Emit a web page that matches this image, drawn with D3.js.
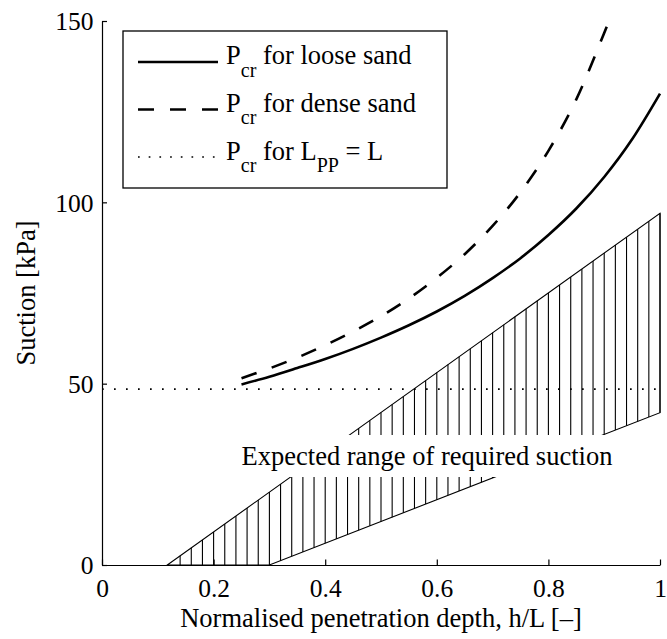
<!DOCTYPE html>
<html><head><meta charset="utf-8">
<script src="https://cdn.jsdelivr.net/npm/d3@7"></script>
<style>
body{margin:0;background:#fff}
svg{display:block}
</style>
</head><body><svg id="c" width="667" height="639"></svg>
<script>
// ---- data ----
const depthLoose   = [0.25,0.30,0.35,0.40,0.45,0.50,0.55,0.60,0.65,0.70,0.75,0.80,0.85,0.90,0.95,1.00];
const suctionLoose = [49.8,51.9,54.3,56.8,59.6,62.7,66.1,69.9,74.2,79.1,84.6,91.0,98.3,107.0,117.4,130.0];
const depthDense   = [0.25,0.30,0.35,0.40,0.45,0.50,0.55,0.60,0.65,0.70,0.75,0.80,0.85,0.90,0.905];
const suctionDense = [51.5,54.2,57.2,60.6,64.4,68.6,73.5,79.2,85.7,93.5,102.8,114.2,128.4,146.7,148.6];
const fullPlugDepth   = [0,1];
const fullPlugSuction = [48.5,48.5];
const rangeUpperDepth   = [0.117,1.0];
const rangeUpperSuction = [0,97];
const rangeLowerDepth   = [0.30,1.0];
const rangeLowerSuction = [0,42];
const xTicks = [0,0.2,0.4,0.6,0.8,1];
const yTicks = [0,50,100,150];
const legendLabels = [["P","cr"," for loose sand"],["P","cr"," for dense sand"],["P","cr"," for L","PP"," = L"]];
const rangeLabel = "Expected range of required suction";
const xLabel = "Normalised penetration depth, h/L [–]";
const yLabel = "Suction [kPa]";

// ---- drawing ----
const FONT = "'Liberation Serif','Times New Roman',serif";
const svg = d3.select("#c");
const x = d3.scaleLinear().domain([0,1]).range([102,660]);
const y = d3.scaleLinear().domain([0,150]).range([565,21]);

// hatched range
const interp = (ds, ss) => d => ss[0] + (d - ds[0])/(ds[1]-ds[0])*(ss[1]-ss[0]);
const upper = interp(rangeUpperDepth, rangeUpperSuction);
const lower = interp(rangeLowerDepth, rangeLowerSuction);
const hatchX = d3.range(0.14, 1.0001, 0.02);
const gH = svg.append("g");
hatchX.forEach(d => {
  const lo = Math.max(0, lower(d)), hi = upper(d);
  gH.append("line").attr("x1",x(d)).attr("x2",x(d)).attr("y1",y(lo)).attr("y2",y(hi))
    .attr("stroke","#000").attr("stroke-width",1.1);
});
const poly = [[rangeUpperDepth[0],rangeUpperSuction[0]],[rangeUpperDepth[1],rangeUpperSuction[1]],
              [rangeLowerDepth[1],rangeLowerSuction[1]],[rangeLowerDepth[0],rangeLowerSuction[0]]];
svg.append("path").attr("d", d3.line().x(p=>x(p[0])).y(p=>y(p[1]))(poly)+"Z")
  .attr("fill","none").attr("stroke","#000").attr("stroke-width",1.1);

// label with white background
svg.append("rect").attr("x",236).attr("y",435).attr("width",384).attr("height",42).attr("fill","#fff");
svg.append("text").attr("x",427).attr("y",465).attr("text-anchor","middle")
  .attr("font-family",FONT).attr("font-size",26.5).text(rangeLabel);

// dotted line
svg.append("line").attr("x1",x(fullPlugDepth[0])).attr("x2",x(fullPlugDepth[1]))
  .attr("y1",y(fullPlugSuction[0])).attr("y2",y(fullPlugSuction[1]))
  .attr("stroke","#000").attr("stroke-width",1.7).attr("stroke-dasharray","1.7,10.3");

// curves
const line = d3.line().x(d=>x(d[0])).y(d=>y(d[1])).curve(d3.curveMonotoneX);
svg.append("path").attr("d", line(d3.zip(depthLoose,suctionLoose)))
  .attr("fill","none").attr("stroke","#000").attr("stroke-width",2.6);
svg.append("path").attr("d", line(d3.zip(depthDense,suctionDense)))
  .attr("fill","none").attr("stroke","#000").attr("stroke-width",2.6).attr("stroke-dasharray","16,16");

// axes
const xa = svg.append("g").attr("transform","translate(0,565)")
  .call(d3.axisBottom(x).tickValues(xTicks).tickSizeInner(-5.5).tickSizeOuter(0).tickFormat(d=>String(d)));
const ya = svg.append("g").attr("transform","translate(102,0)")
  .call(d3.axisLeft(y).tickValues(yTicks).tickSizeInner(-5).tickSizeOuter(0).tickFormat(d=>String(d)));
[xa,ya].forEach(g => g.attr("font-family",FONT).attr("font-size",25.5));
xa.selectAll("text").attr("y",31.7).attr("dy",0);
ya.selectAll("text").attr("x",-8.5).attr("dy","0.34em");
svg.selectAll(".domain, .tick line").attr("stroke","#000").attr("stroke-width",1.2);
svg.selectAll(".tick text").attr("fill","#000");

svg.append("text").attr("x",381).attr("y",627).attr("text-anchor","middle")
  .attr("font-family",FONT).attr("font-size",26.5).text(xLabel);
svg.append("text").attr("transform","translate(35,293) rotate(-90)").attr("text-anchor","middle")
  .attr("font-family",FONT).attr("font-size",26.5).text(yLabel);

// legend
svg.append("rect").attr("x",123).attr("y",31).attr("width",324).attr("height",157)
  .attr("fill","#fff").attr("stroke","#000").attr("stroke-width",1.3);
const rowsY = [62,109.5,157];
const dashes = [null,"16,16","1.7,9"];
const widths = [2.6,2.6,1.7];
const baselines = [64.3,111.7,159.5];
legendLabels.forEach((lab,i) => {
  const l = svg.append("line").attr("x1",138).attr("x2",218).attr("y1",rowsY[i]).attr("y2",rowsY[i])
    .attr("stroke","#000").attr("stroke-width",widths[i]);
  if (dashes[i]) l.attr("stroke-dasharray",dashes[i]);
  const t = svg.append("text").attr("x",226).attr("y",baselines[i])
    .attr("font-family",FONT).attr("font-size",26.5);
  lab.forEach((s,j) => {
    const sub = j % 2 === 1;
    const ts = t.append("tspan").text(s);
    if (sub) ts.attr("font-size",20).attr("dy",12.4);
    else if (j>0) ts.attr("dy",-12.4);
  });
});
</script>
</body></html>
